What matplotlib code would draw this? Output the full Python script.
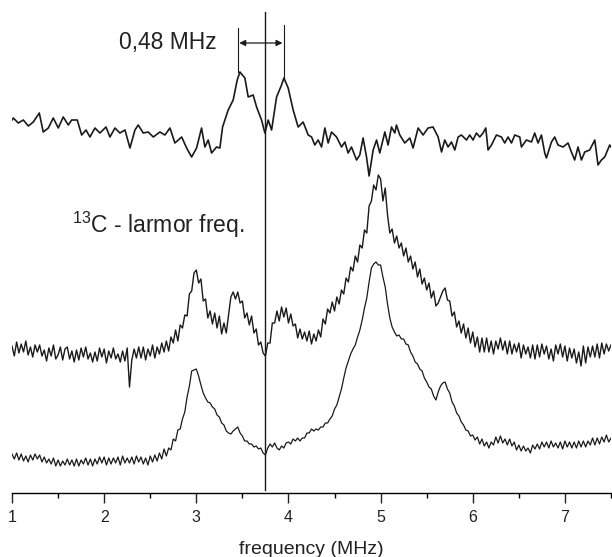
"""Stacked spectra with the 13C Larmor frequency marker."""

import matplotlib

matplotlib.use("Agg")
import matplotlib.pyplot as plt  # noqa: E402
import numpy as np  # noqa: E402

plt.rcParams["font.family"] = ["Liberation Sans", "DejaVu Sans"]
plt.rcParams["mathtext.fontset"] = "custom"
plt.rcParams["mathtext.rm"] = "Liberation Sans"

# --- data (stacked intensity, arbitrary units) ---------------------------
top_freq = [
    1.000, 1.014, 1.068, 1.123, 1.177, 1.231, 1.296, 1.339, 1.394, 1.448,
    1.502, 1.556, 1.611, 1.647, 1.708, 1.756, 1.803, 1.846, 1.900, 1.954,
    2.020, 2.063, 2.117, 2.171, 2.226, 2.280, 2.334, 2.370, 2.424, 2.478,
    2.533, 2.605, 2.659, 2.714, 2.768, 2.841, 2.895, 2.949, 3.003, 3.057,
    3.093, 3.129, 3.166, 3.220, 3.256, 3.285, 3.346, 3.400, 3.444, 3.473,
    3.527, 3.563, 3.617, 3.654, 3.708, 3.744, 3.780, 3.817, 3.871, 3.925,
    3.950, 3.997, 4.051, 4.105, 4.159, 4.214, 4.251, 4.286, 4.322, 4.359,
    4.395, 4.431, 4.467, 4.522, 4.576, 4.612, 4.647, 4.684, 4.739, 4.774,
    4.810, 4.847, 4.875, 4.919, 4.956, 4.991, 5.046, 5.081, 5.118, 5.154,
    5.172, 5.208, 5.262, 5.317, 5.352, 5.407, 5.461, 5.515, 5.569, 5.624,
    5.661, 5.696, 5.732, 5.769, 5.805, 5.841, 5.877, 5.932, 5.967, 6.003,
    6.040, 6.076, 6.112, 6.141, 6.166, 6.203, 6.257, 6.311, 6.347, 6.383,
    6.420, 6.456, 6.510, 6.528, 6.582, 6.637, 6.672, 6.708, 6.745, 6.781,
    6.799, 6.854, 6.889, 6.925, 6.979, 7.034, 7.070, 7.106, 7.142, 7.179,
    7.215, 7.269, 7.324, 7.359, 7.396, 7.432, 7.486, 7.500,
]
top_signal = [
    373, 375, 370, 373, 367, 371, 380, 361, 365, 375,
    365, 376, 368, 373, 373, 358, 363, 356, 365, 360,
    366, 356, 365, 360, 363, 345, 363, 368, 360, 361,
    356, 361, 358, 365, 350, 356, 345, 336, 345, 365,
    346, 353, 340, 346, 345, 366, 383, 393, 413, 421,
    415, 396, 398, 386, 373, 360, 373, 363, 396, 408,
    415, 405, 383, 366, 371, 358, 356, 348, 353, 346,
    365, 350, 361, 356, 346, 351, 340, 346, 333, 338,
    355, 336, 317, 343, 353, 340, 361, 348, 366, 360,
    368, 358, 350, 355, 345, 365, 358, 365, 366, 356,
    341, 353, 346, 351, 343, 356, 358, 353, 358, 353,
    360, 356, 360, 365, 343, 348, 358, 356, 350, 356,
    350, 358, 356, 346, 353, 351, 360, 350, 358, 340,
    335, 351, 356, 348, 346, 350, 341, 333, 346, 333,
    341, 343, 353, 328, 333, 336, 348, 346,
]

# middle and bottom traces share a 0.025 MHz grid from 1.0 to 7.5 MHz
grid_freq = np.linspace(1.0, 7.5, 261)
middle_signal = [
    147, 137, 151, 140, 149, 141, 152, 138, 146, 136, 148, 141, 148, 137, 143, 132,
    145, 137, 148, 134, 138, 146, 133, 144, 146, 134, 142, 131, 143, 133, 145, 136,
    146, 134, 140, 131, 141, 132, 145, 136, 144, 130, 142, 135, 145, 134, 139, 131,
    142, 132, 145, 106, 133, 144, 135, 146, 135, 146, 133, 144, 137, 148, 135, 146,
    139, 150, 141, 152, 142, 156, 150, 163, 152, 168, 165, 178, 177, 199, 202, 220,
    223, 210, 214, 192, 194, 175, 182, 169, 180, 165, 177, 159, 170, 160, 178, 196,
    201, 194, 201, 190, 192, 175, 180, 168, 177, 160, 164, 148, 151, 140, 137, 150,
    150, 170, 170, 182, 172, 186, 176, 185, 170, 179, 167, 169, 155, 164, 154, 161,
    152, 162, 149, 159, 152, 163, 156, 174, 169, 184, 180, 191, 182, 196, 189, 203,
    199, 215, 211, 226, 222, 237, 231, 248, 245, 263, 260, 287, 292, 308, 303, 318,
    314, 292, 305, 278, 260, 264, 250, 257, 245, 250, 237, 245, 231, 237, 224, 231,
    216, 224, 209, 215, 203, 210, 195, 202, 187, 190, 196, 202, 205, 193, 192, 177,
    181, 166, 172, 160, 169, 155, 165, 150, 161, 146, 156, 141, 155, 141, 155, 141,
    152, 139, 152, 144, 155, 143, 152, 139, 152, 139, 149, 141, 150, 135, 148, 139,
    146, 135, 148, 134, 148, 136, 149, 139, 147, 134, 144, 132, 148, 139, 149, 136,
    147, 132, 145, 135, 144, 130, 141, 127, 147, 130, 146, 136, 147, 136, 149, 135,
    150, 139, 149, 142, 148,
]
bottom_signal = [
    39, 34, 40, 33, 39, 32, 37, 31, 38, 33, 39, 34, 38, 31, 36, 30,
    34, 29, 35, 27, 33, 27, 32, 28, 34, 28, 33, 27, 34, 27, 33, 29,
    35, 28, 34, 27, 34, 29, 36, 30, 36, 28, 35, 29, 35, 30, 36, 28,
    37, 30, 35, 30, 36, 29, 37, 31, 36, 29, 35, 28, 37, 31, 38, 32,
    40, 34, 44, 37, 45, 43, 54, 52, 63, 64, 74, 81, 96, 107, 122, 123,
    124, 117, 108, 100, 95, 91, 90, 86, 84, 78, 76, 70, 68, 62, 60, 59,
    62, 64, 66, 60, 57, 52, 52, 49, 49, 46, 47, 44, 45, 40, 38, 45,
    49, 46, 50, 45, 43, 47, 45, 50, 51, 49, 54, 52, 55, 52, 55, 55,
    60, 60, 64, 62, 64, 63, 66, 66, 70, 70, 74, 77, 84, 88, 96, 104,
    115, 125, 132, 139, 144, 148, 156, 163, 173, 185, 195, 211, 225, 229, 231, 228,
    228, 216, 206, 189, 175, 166, 161, 157, 158, 154, 154, 149, 148, 141, 137, 131,
    129, 124, 122, 115, 111, 106, 104, 97, 93, 101, 107, 110, 111, 104, 100, 91,
    87, 80, 77, 71, 68, 63, 62, 57, 58, 53, 56, 49, 54, 47, 51, 45,
    51, 48, 56, 50, 57, 50, 54, 48, 54, 47, 51, 43, 48, 42, 47, 42,
    45, 40, 48, 44, 49, 44, 51, 46, 51, 45, 52, 46, 50, 45, 51, 44,
    52, 46, 51, 45, 51, 45, 52, 46, 52, 46, 52, 48, 55, 48, 55, 49,
    56, 51, 58, 51, 55,
]

larmor_freq = 3.744
split_left = 3.451
split_right = 3.950
split_label = "0,48 MHz"
larmor_label = "$^{13}$C - larmor freq."

# --- figure ---------------------------------------------------------------
W, H = 612, 557
fig = plt.figure(figsize=(W / 100, H / 100), dpi=100)
ax = fig.add_axes([12 / W, (H - 493) / H, 599 / W, 493 / H])
ax.set_xlim(1.0, 7.5)
ax.set_ylim(0, 493)

ax.plot(top_freq, top_signal, color="#1a1a1a", lw=1.2)
ax.plot(grid_freq, middle_signal, color="#1a1a1a", lw=1.0)
ax.plot(grid_freq, bottom_signal, color="#1a1a1a", lw=0.9)

# Larmor frequency marker and splitting annotation
ax.plot([larmor_freq, larmor_freq], [3, 481], color="#1a1a1a", lw=1.0)
ax.plot([split_left, split_left], [421, 465], color="#1a1a1a", lw=0.8)
ax.plot([split_right, split_right], [415, 468], color="#1a1a1a", lw=0.8)
ax.annotate(
    "", xy=(split_left + 0.015, 450), xytext=(split_right - 0.015, 450),
    arrowprops=dict(arrowstyle="<|-|>", color="#1a1a1a", lw=0.9,
                    mutation_scale=9, shrinkA=0, shrinkB=0),
)
ax.text(2.69, 450, split_label, fontsize=16.5, ha="center", va="center",
        color="#222222")
ax.text(1.65, 268, larmor_label, fontsize=16.5, ha="left", va="center",
        color="#222222")

for side in ("left", "right", "top"):
    ax.spines[side].set_visible(False)
ax.spines["bottom"].set_linewidth(1.0)
ax.set_yticks([])
ax.set_xticks(np.arange(1, 8))
ax.set_xticks(np.arange(1.5, 7.6, 1.0), minor=True)
ax.tick_params(axis="x", which="major", direction="out", length=7, width=1.0,
               labelsize=11.5, pad=5, colors="#222222")
ax.tick_params(axis="x", which="minor", direction="out", length=3.5, width=1.0)
ax.set_xlabel("frequency (MHz)", fontsize=14, color="#222222", labelpad=12)

fig.savefig("out.png", dpi=100)
